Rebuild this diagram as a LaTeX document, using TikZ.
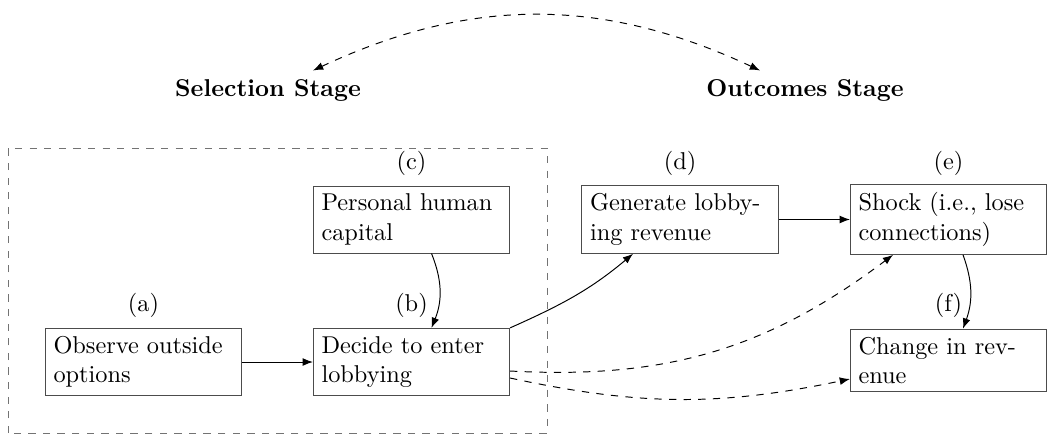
\documentclass[tikz,border=0pt]{standalone}
\usetikzlibrary{arrows.meta,calc}
\begin{document}
\begin{tikzpicture}[x=0.411pt,y=0.411pt,
  box/.style={draw=black!70, text width=2.6cm, align=left, inner sep=0.333em},
  arr/.style={-{Latex[length=4.2pt,width=3.2pt]}},
  darr/.style={arr, dashed},
  stage/.style={font=\bfseries},
]
\useasboundingbox (0,0) rectangle (1047,434);
% dashed frame of the selection stage
\draw[dashed, black!55] (8,1) rectangle (547,286);
% stage titles
\node[stage] (sel) at (268,344) {Selection Stage};
\node[stage] (out) at (805,344) {Outcomes Stage};
% boxes
\node[box] (a) at (143.5,72) {Observe outside options};
\node[box] (b) at (411.5,72) {Decide to enter lobbying};
\node[box] (c) at (411.5,214.5) {Personal human capital};
\node[box] (d) at (680,214.5) {Generate lobbying revenue};
\node[box] (e) at (948.5,214.5) {Shock (i.e., lose connections)};
\node[box] (f) at (948.5,73.5) {Change in revenue};
% letters
\node (la) at (143.5,129) {(a)};
\node (lb) at (411.5,129) {(b)};
\node (lc) at (411.5,271) {(c)};
\node (ld) at (680,271) {(d)};
\node (le) at (948.5,271) {(e)};
\node (lf) at (948.5,129) {(f)};
% connectors
\draw[darr, {Latex[length=4.2pt,width=3.2pt]}-{Latex[length=4.2pt,width=3.2pt]}]
  ($(sel.north)+(45,0)$) to[bend left=25] ($(out.north)+(-45,0)$);
\draw[arr] (a) -- (b);
\draw[arr] ($(c.south)+(20,0)$) to[bend left=22] ($(b.north)+(20,0)$);
\draw[arr] (b.north east) to[out=24,in=-140] ($(d.south)+(-47,0)$);
\draw[arr] (d) -- (e);
\draw[arr] ($(e.south)+(14.5,0)$) to[bend left=20] ($(f.north)+(14.5,0)$);
\draw[darr] ($(b.east)+(0,-9)$) to[bend right=20] ($(e.south)+(-55.5,0)$);
\draw[darr] ($(b.east)+(0,-16)$) to[bend right=12] ($(f.west)+(0,-18.5)$);
\end{tikzpicture}
\end{document}
